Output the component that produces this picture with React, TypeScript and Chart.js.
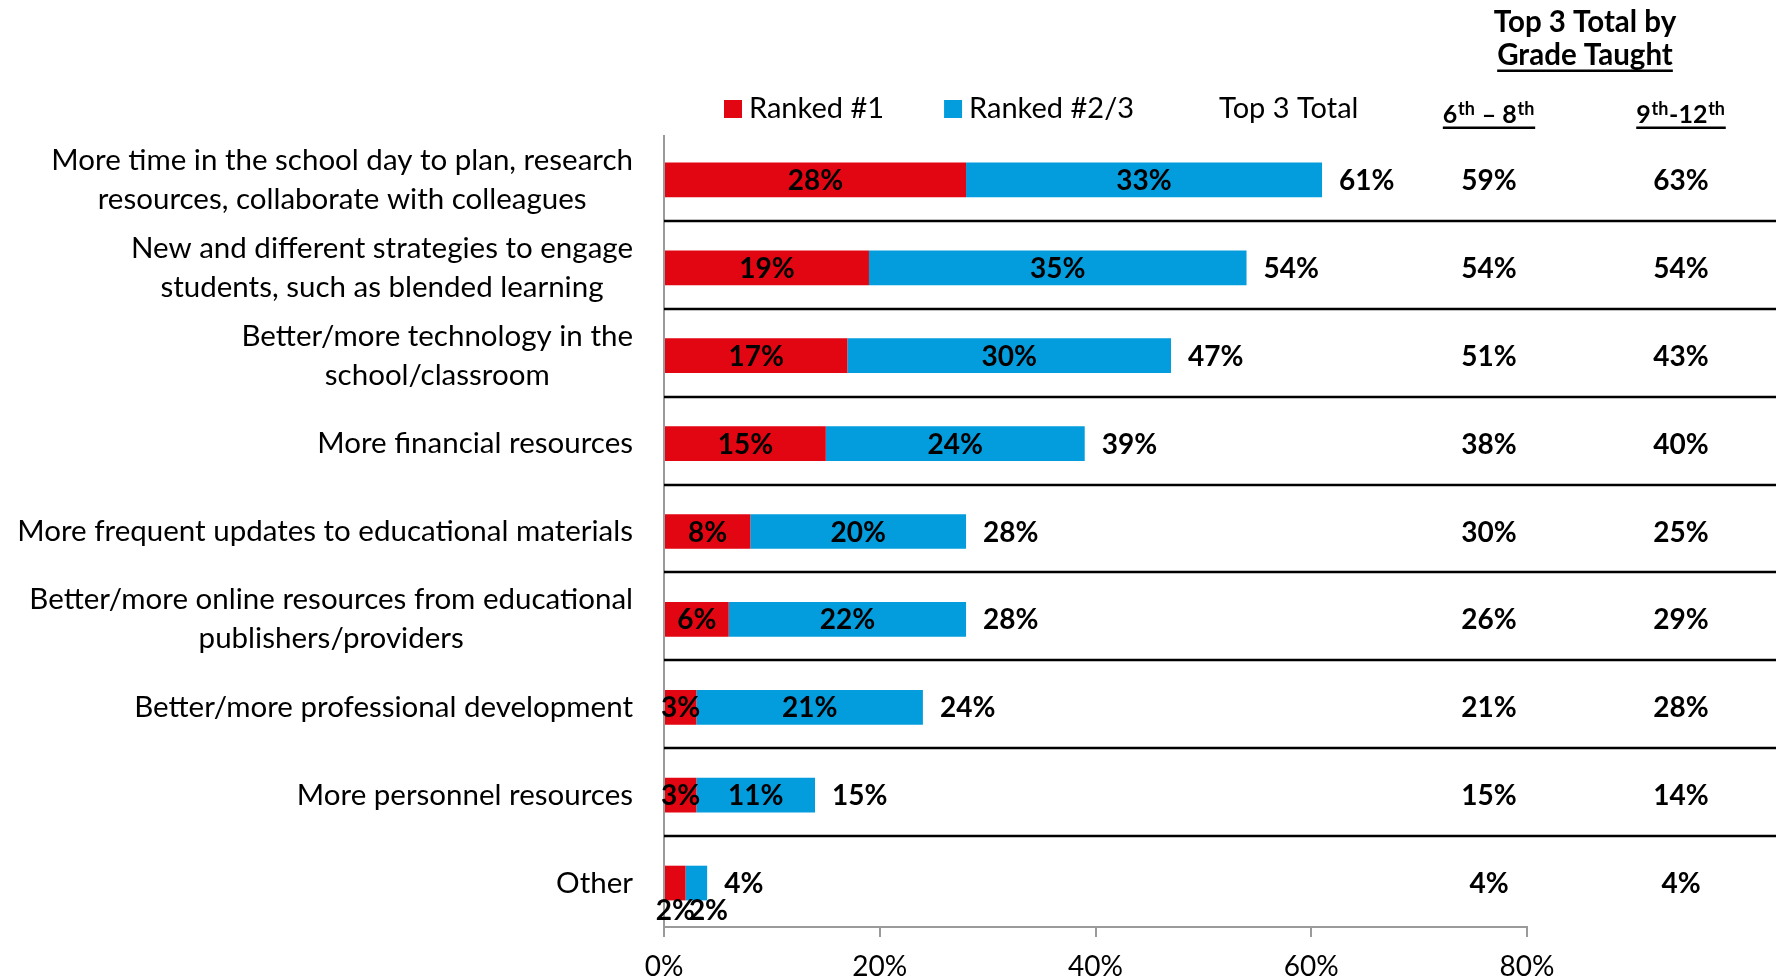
import React, { useEffect, useRef } from "react";
import { Chart, registerables } from "chart.js";

Chart.register(...registerables);

// ---------- data ----------
const categories: string[][] = [
  ["More time in the school day to plan, research", "resources, collaborate with colleagues"],
  ["New and different strategies to engage", "students, such as blended learning"],
  ["Better/more technology in the", "school/classroom"],
  ["More financial resources"],
  ["More frequent updates to educational materials"],
  ["Better/more online resources from educational", "publishers/providers"],
  ["Better/more professional development"],
  ["More personnel resources"],
  ["Other"],
];
const ranked1 = [28, 19, 17, 15, 8, 6, 3, 3, 2];
const ranked23 = [33, 35, 30, 24, 20, 22, 21, 11, 2];
const top3Total = [61, 54, 47, 39, 28, 28, 24, 15, 4];
const grade6to8 = [59, 54, 51, 38, 30, 26, 21, 15, 4];
const grade9to12 = [63, 54, 43, 40, 25, 29, 28, 14, 4];
const xTickValues = [0, 20, 40, 60, 80];
const legendLabels = ["Ranked #1", "Ranked #2/3", "Top 3 Total"];
const headerLines = ["Top 3 Total by", "Grade Taught"];
const gradeHeaders = [
  [{ t: "6", sup: false }, { t: "th", sup: true }, { t: " \u2013 8", sup: false }, { t: "th", sup: true }],
  [{ t: "9", sup: false }, { t: "th", sup: true }, { t: "-12", sup: false }, { t: "th", sup: true }],
];

// ---------- style / layout ----------
const RED = "#E20613";
const BLUE = "#039CDD";
const AXIS_GRAY = "#9a9a9a";
const FONT = "Lato";
const W = 1783;
const H = 979;
const LABEL_RIGHT = 633;
const LINE_GAP = 39;
const COL_X = [1489, 1681];
const HEADER_X = 1585;
const SEP_RIGHT = 1776;

const overlay = {
  id: "overlay",
  afterDraw(chart: any) {
    const { ctx, chartArea } = chart;
    const ys = chart.scales.y;
    ctx.save();

    // row separators
    ctx.strokeStyle = "#000";
    ctx.lineWidth = 2.5;
    for (let i = 0; i < categories.length - 1; i++) {
      const y = Math.round((ys.getPixelForValue(i) + ys.getPixelForValue(i + 1)) / 2 - 3);
      ctx.beginPath();
      ctx.moveTo(chartArea.left, y);
      ctx.lineTo(SEP_RIGHT, y);
      ctx.stroke();
    }

    // category labels (right-aligned block, centered lines)
    ctx.fillStyle = "#000";
    ctx.font = `29.5px ${FONT}`;
    ctx.textAlign = "center";
    ctx.textBaseline = "middle";
    categories.forEach((lines, i) => {
      const yc = ys.getPixelForValue(i);
      const blockW = Math.max(...lines.map((l) => ctx.measureText(l).width));
      const cx = LABEL_RIGHT - blockW / 2;
      lines.forEach((l, k) => {
        const y = yc - ((lines.length - 1) * LINE_GAP) / 2 + k * LINE_GAP;
        ctx.fillText(l, cx, y);
      });
    });

    // segment labels
    const m0 = chart.getDatasetMeta(0);
    const m1 = chart.getDatasetMeta(1);
    ctx.font = `bold 28px ${FONT}`;
    ctx.textAlign = "center";
    for (let i = 0; i < categories.length; i++) {
      let lastRight = -Infinity;
      [m0, m1].forEach((m: any, d: number) => {
        const bar = m.data[i];
        const { x, base, y } = bar.getProps(["x", "base", "y"], true);
        const val = (d === 0 ? ranked1 : ranked23)[i];
        const txt = `${val}%`;
        const w = ctx.measureText(txt).width;
        let cx = (x + base) / 2;
        if (Math.abs(x - base) < 26) {
          if (cx - w / 2 < lastRight - 6) cx = lastRight - 6 + w / 2;
          ctx.fillText(txt, cx, y + 28);
          lastRight = cx + w / 2;
        } else {
          ctx.fillText(txt, cx, y + 1);
        }
      });
    }

    // total labels
    ctx.textAlign = "left";
    for (let i = 0; i < categories.length; i++) {
      const bar = m1.data[i];
      const { x, y } = bar.getProps(["x", "y"], true);
      ctx.fillText(`${top3Total[i]}%`, x + 17, y + 1);
    }

    // grade columns
    ctx.textAlign = "center";
    for (let i = 0; i < categories.length; i++) {
      const y = ys.getPixelForValue(i) + 1;
      ctx.fillText(`${grade6to8[i]}%`, COL_X[0], y);
      ctx.fillText(`${grade9to12[i]}%`, COL_X[1], y);
    }

    // header
    ctx.textBaseline = "alphabetic";
    ctx.font = `bold 29.5px ${FONT}`;
    ctx.fillText(headerLines[0], HEADER_X, 32);
    ctx.fillText(headerLines[1], HEADER_X, 65);
    const gw = ctx.measureText(headerLines[1]).width;
    ctx.fillRect(HEADER_X - gw / 2, 69.5, gw, 2.5);

    // grade column headers with superscripts
    const baseFont = `bold 25px ${FONT}`;
    const supFont = `bold 18px ${FONT}`;
    ctx.textAlign = "left";
    gradeHeaders.forEach((parts, c) => {
      const widths = parts.map((p) => {
        ctx.font = p.sup ? supFont : baseFont;
        return ctx.measureText(p.t).width + (p.sup ? 1.5 : 0);
      });
      const total = widths.reduce((a, b) => a + b, 0);
      let x = COL_X[c] - total / 2;
      parts.forEach((p, k) => {
        ctx.font = p.sup ? supFont : baseFont;
        ctx.fillText(p.t, x + (p.sup ? 0.75 : 0), p.sup ? 115 : 123);
        x += widths[k];
      });
      ctx.fillRect(COL_X[c] - total / 2, 126.5, total, 2.5);
    });

    // legend
    ctx.font = `29px ${FONT}`;
    ctx.textBaseline = "middle";
    const swatches = [RED, BLUE, null];
    let lx = chartArea.left + 60;
    const ly = 109;
    legendLabels.forEach((lab, k) => {
      const col = swatches[k];
      if (col) {
        ctx.fillStyle = col;
        ctx.fillRect(lx, ly - 9, 18, 18);
      }
      lx += 25;
      ctx.fillStyle = "#000";
      ctx.fillText(lab, lx, ly);
      lx += ctx.measureText(lab).width + 60;
    });

    ctx.restore();
  },
};

export default function App() {
  const ref = useRef<HTMLCanvasElement | null>(null);
  useEffect(() => {
    document.body.style.margin = "0";
    document.body.style.overflow = "hidden";
    Chart.defaults.font.family = FONT;
    const chart = new Chart(ref.current as HTMLCanvasElement, {
      type: "bar",
      data: {
        labels: categories.map((c) => c.join(" ")),
        datasets: [
          {
            label: legendLabels[0],
            data: ranked1,
            backgroundColor: RED,
            barPercentage: 0.395,
            categoryPercentage: 1,
          },
          {
            label: legendLabels[1],
            data: ranked23,
            backgroundColor: BLUE,
            barPercentage: 0.395,
            categoryPercentage: 1,
          },
        ],
      },
      options: {
        indexAxis: "y",
        animation: false,
        responsive: false,
        devicePixelRatio: 1,
        layout: { padding: { top: 136, right: W - 1527, left: 0, bottom: 0 } },
        plugins: {
          legend: { display: false },
          tooltip: { enabled: false },
          title: { display: false },
        },
        scales: {
          x: {
            stacked: true,
            min: 0,
            max: 80,
            afterBuildTicks: (s: any) => {
              s.ticks = xTickValues.map((v) => ({ value: v }));
            },
            afterFit: (s: any) => {
              s.height = 52;
            },
            ticks: {
              callback: (v: any) => `${v}%`,
              font: { family: FONT, size: 28 },
              color: "#000",
              padding: 13,
              maxRotation: 0,
            },
            grid: {
              drawOnChartArea: false,
              drawTicks: true,
              tickLength: 10,
              color: AXIS_GRAY,
              lineWidth: 2,
            },
            border: { color: AXIS_GRAY, width: 2 },
          },
          y: {
            stacked: true,
            afterFit: (s: any) => {
              s.width = 664;
            },
            ticks: { display: false },
            grid: { display: false },
            border: { color: AXIS_GRAY, width: 2 },
          },
        },
      } as any,
      plugins: [overlay],
    });
    return () => chart.destroy();
  }, []);
  return (
    <div style={{ width: W, height: H }}>
      <canvas ref={ref} width={W} height={H} style={{ display: "block" }} />
    </div>
  );
}
